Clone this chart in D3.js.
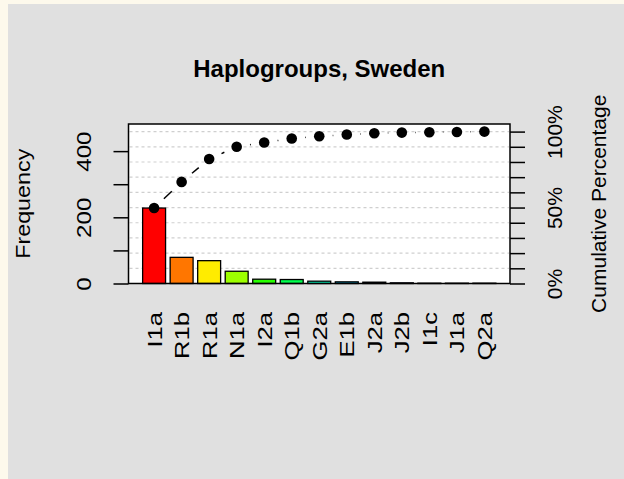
<!DOCTYPE html>
<html>
<head>
<meta charset="utf-8">
<script src="https://cdn.jsdelivr.net/npm/d3@7"></script>
<style>
  body { margin: 0; background: #fdf9ec; }
  svg { display: block; font-family: "Liberation Sans", Arial, sans-serif; }
</style>
</head>
<body>
<div class="chart"></div>
<script>
var svgWidth = 624;
var svgHeight = 479;

// data
var groups = ["I1a", "R1b", "R1a", "N1a", "I2a", "Q1b", "G2a", "E1b", "J2a", "J2b", "I1c", "J1a", "Q2a"];
var counts = [228, 79, 69, 37, 13, 12, 7, 5, 4, 2, 1, 1, 1];
var barColors = ["#FF0000", "#FF7600", "#FFEC00", "#9DFF00", "#27FF00", "#00FF4E", "#00FFC4",
                 "#00C4FF", "#004EFF", "#2700FF", "#9D00FF", "#FF00EC", "#FF0076"];
var freqTicks = [0, 100, 200, 300, 400];
var freqLabels = [0, 200, 400];
var pctTicks = [0, 0.1, 0.2, 0.3, 0.4, 0.5, 0.6, 0.7, 0.8, 0.9, 1];
var pctLabels = [0, 0.5, 1];

var total = d3.sum(counts);
var cum = Array.from(d3.cumsum(counts));

var margin = { top: 124, right: 114, bottom: 195.5, left: 128.5 };
var width = svgWidth - margin.left - margin.right;
var height = svgHeight - margin.top - margin.bottom;

var svg = d3.select(".chart")
    .append("svg")
    .attr("width", svgWidth)
    .attr("height", svgHeight);

// grey panel over cream page
svg.append("rect")
    .attr("x", 8).attr("y", 4)
    .attr("width", svgWidth - 8).attr("height", svgHeight - 4)
    .attr("fill", "#e0e0e0");

var chartGroup = svg.append("g")
    .attr("transform", `translate(${margin.left}, ${margin.top})`);

// scales
var xScale = d3.scaleBand()
    .domain(groups)
    .range([0, width])
    .paddingInner(1 / 6)
    .paddingOuter(0.5133);

var yScale = d3.scaleLinear()
    .domain([0, total * 1.05])
    .range([height, 0]);

var pScale = d3.scaleLinear()
    .domain([0, 1.05])
    .range([height, 0]);

// plot area
chartGroup.append("rect")
    .attr("width", width)
    .attr("height", height)
    .attr("fill", "white");

// grid lines at each 10%
chartGroup.append("g")
    .selectAll("line")
    .data(pctTicks.slice(1))
    .enter()
    .append("line")
    .attr("x1", 1).attr("x2", width - 1)
    .attr("y1", d => pScale(d)).attr("y2", d => pScale(d))
    .attr("stroke", "#cfcfcf")
    .attr("stroke-width", 1.2)
    .attr("stroke-dasharray", "3,3");

// bars
chartGroup.selectAll(".bar")
    .data(counts)
    .enter()
    .append("rect")
    .attr("class", "bar")
    .attr("x", (d, i) => xScale(groups[i]))
    .attr("y", d => yScale(d))
    .attr("width", xScale.bandwidth())
    .attr("height", d => height - yScale(d))
    .attr("fill", (d, i) => barColors[i])
    .attr("stroke", "black")
    .attr("stroke-width", 1.3);

// cumulative line (type "b": segments with gaps round the points)
var pts = cum.map((c, i) => [xScale(groups[i]) + xScale.bandwidth() / 2, yScale(c)]);
var gap = 13.5;
var segs = [];
for (var i = 0; i < pts.length - 1; i++) {
    var dx = pts[i + 1][0] - pts[i][0];
    var dy = pts[i + 1][1] - pts[i][1];
    var len = Math.sqrt(dx * dx + dy * dy);
    if (len > 2 * gap) {
        segs.push([
            [pts[i][0] + dx * gap / len, pts[i][1] + dy * gap / len],
            [pts[i + 1][0] - dx * gap / len, pts[i + 1][1] - dy * gap / len]
        ]);
    }
}
chartGroup.selectAll(".seg")
    .data(segs)
    .enter()
    .append("line")
    .attr("class", "seg")
    .attr("x1", d => d[0][0]).attr("y1", d => d[0][1])
    .attr("x2", d => d[1][0]).attr("y2", d => d[1][1])
    .attr("stroke", "black")
    .attr("stroke-width", 1.5)
    .attr("stroke-dasharray", "11,5");

chartGroup.selectAll(".pt")
    .data(pts)
    .enter()
    .append("circle")
    .attr("class", "pt")
    .attr("cx", d => d[0])
    .attr("cy", d => d[1])
    .attr("r", 5.3)
    .attr("fill", "black");

// box
chartGroup.append("rect")
    .attr("width", width)
    .attr("height", height)
    .attr("fill", "none")
    .attr("stroke", "black")
    .attr("stroke-width", 1.5);

// left axis
var leftAxis = d3.axisLeft(yScale)
    .tickValues(freqTicks)
    .tickSize(15)
    .tickFormat(d => freqLabels.indexOf(d) >= 0 ? d : "");

var gl = chartGroup.append("g").call(leftAxis);
gl.select(".domain").remove();
gl.selectAll(".tick line").attr("stroke-width", 1.5);
gl.selectAll(".tick text")
    .attr("transform", "rotate(-90) scale(1.15,1)")
    .attr("x", 0)
    .attr("y", -38)
    .attr("dy", 0)
    .attr("text-anchor", "middle")
    .attr("fill", "black")
    .style("font-size", "21px")
    .style("font-family", "Liberation Sans, Arial, sans-serif");

// right axis
var rightAxis = d3.axisRight(pScale)
    .tickValues(pctTicks)
    .tickSize(15)
    .tickFormat(d => pctLabels.indexOf(d) >= 0 ? Math.round(d * 100) + "%" : "");

var gr = chartGroup.append("g")
    .attr("transform", `translate(${width}, 0)`)
    .call(rightAxis);
gr.select(".domain").remove();
gr.selectAll(".tick line").attr("stroke-width", 1.5);
gr.selectAll(".tick text")
    .attr("transform", "rotate(-90)")
    .attr("x", 0)
    .attr("y", 52)
    .attr("dy", 0)
    .attr("text-anchor", "middle")
    .attr("fill", "black")
    .style("font-size", "21px")
    .style("font-family", "Liberation Sans, Arial, sans-serif");

// category labels
chartGroup.selectAll(".cat")
    .data(groups)
    .enter()
    .append("text")
    .attr("class", "cat")
    .attr("transform", d => `translate(${xScale(d) + xScale.bandwidth() / 2}, ${312 - margin.top}) rotate(-90) scale(1.22,1)`)
    .attr("dy", "0.36em")
    .attr("text-anchor", "end")
    .style("font-size", "21px")
    .text(d => d);

// titles
svg.append("text")
    .attr("x", margin.left + width / 2)
    .attr("y", 77.3)
    .attr("text-anchor", "middle")
    .style("font-size", "24px")
    .style("font-weight", "bold")
    .text("Haplogroups, Sweden");

svg.append("text")
    .attr("transform", `translate(29.5, ${margin.top + height / 2}) rotate(-90) scale(1.11,1)`)
    .attr("text-anchor", "middle")
    .style("font-size", "21px")
    .text("Frequency");

svg.append("text")
    .attr("transform", `translate(606, ${margin.top + height / 2}) rotate(-90)`)
    .attr("text-anchor", "middle")
    .style("font-size", "21px")
    .text("Cumulative Percentage");
</script>
</body>
</html>
